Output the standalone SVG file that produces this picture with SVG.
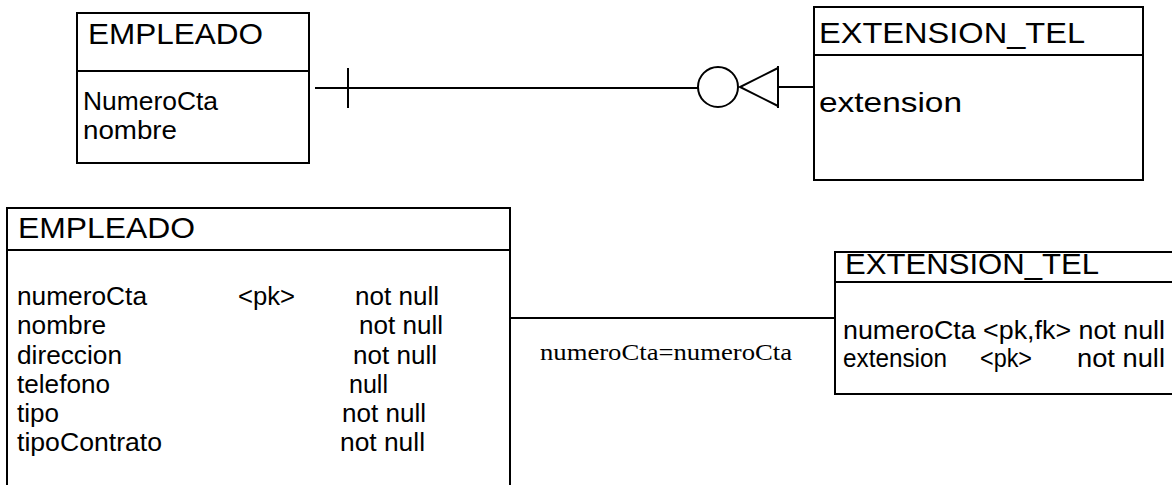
<svg xmlns="http://www.w3.org/2000/svg" width="1172" height="485" viewBox="0 0 1172 485">
<style>
.box{fill:#fff;stroke:#000;stroke-width:2}
.div{stroke:#000;stroke-width:2}
.ln{stroke:#000;stroke-width:2;fill:none}
.t{font-family:"Liberation Sans",Arial,sans-serif;fill:#000;font-size:30px}
.r{font-family:"Liberation Sans",Arial,sans-serif;fill:#000;font-size:25px}
.s{font-family:"Liberation Serif","Times New Roman",serif;fill:#000;font-size:24px}
</style>
<rect width="1172" height="485" fill="#fff"/>
<g id="connectors">
<line class="ln" x1="315" y1="88" x2="698" y2="88"/>
<line class="ln" x1="348" y1="68" x2="348" y2="108"/>
<circle class="ln" cx="718" cy="87" r="20"/>
<polyline class="ln" points="778,68 740,87 778,106"/>
<line class="ln" x1="778" y1="66" x2="778" y2="108"/>
<line class="ln" x1="778" y1="87" x2="814" y2="87"/>
<line class="ln" x1="510" y1="318" x2="835" y2="318"/>
<text class="s" x="540" y="360" textLength="252" lengthAdjust="spacingAndGlyphs">numeroCta=numeroCta</text>
</g>
<g id="empleado-top">
<rect class="box" x="77" y="13" width="232" height="150"/>
<line class="div" x1="77" y1="71" x2="309" y2="71"/>
<text class="t" x="88" y="44" textLength="175" lengthAdjust="spacingAndGlyphs">EMPLEADO</text>
<text class="r" x="83" y="110" textLength="135" lengthAdjust="spacingAndGlyphs">NumeroCta</text>
<text class="r" x="83" y="139" textLength="94" lengthAdjust="spacingAndGlyphs">nombre</text>
</g>
<g id="extension-top">
<rect class="box" x="814" y="7" width="329" height="173"/>
<line class="div" x1="814" y1="55" x2="1143" y2="55"/>
<text class="t" x="819" y="43" textLength="266" lengthAdjust="spacingAndGlyphs">EXTENSION_TEL</text>
<text class="t" x="819" y="112" style="font-size:28px" textLength="143" lengthAdjust="spacingAndGlyphs">extension</text>
</g>
<g id="empleado-bottom">
<rect class="box" x="7" y="208" width="503" height="290"/>
<line class="div" x1="7" y1="250" x2="510" y2="250"/>
<text class="t" x="18" y="238" textLength="177" lengthAdjust="spacingAndGlyphs">EMPLEADO</text>
<text class="r" x="17" y="305" textLength="130" lengthAdjust="spacingAndGlyphs">numeroCta</text>
<text class="r" x="17" y="334" textLength="89" lengthAdjust="spacingAndGlyphs">nombre</text>
<text class="r" x="17" y="364" textLength="105" lengthAdjust="spacingAndGlyphs">direccion</text>
<text class="r" x="17" y="393" textLength="93" lengthAdjust="spacingAndGlyphs">telefono</text>
<text class="r" x="17" y="422" textLength="42" lengthAdjust="spacingAndGlyphs">tipo</text>
<text class="r" x="17" y="451" textLength="145" lengthAdjust="spacingAndGlyphs">tipoContrato</text>
<text class="r" x="238" y="305" textLength="57" lengthAdjust="spacingAndGlyphs">&lt;pk&gt;</text>
<text class="r" x="355" y="305" textLength="84" lengthAdjust="spacingAndGlyphs">not null</text>
<text class="r" x="359" y="334" textLength="84" lengthAdjust="spacingAndGlyphs">not null</text>
<text class="r" x="353" y="364" textLength="84" lengthAdjust="spacingAndGlyphs">not null</text>
<text class="r" x="349" y="393" textLength="39" lengthAdjust="spacingAndGlyphs">null</text>
<text class="r" x="342" y="422" textLength="84" lengthAdjust="spacingAndGlyphs">not null</text>
<text class="r" x="340" y="451" textLength="85" lengthAdjust="spacingAndGlyphs">not null</text>
</g>
<g id="extension-bottom">
<rect class="box" x="835" y="252" width="345" height="142"/>
<line class="div" x1="835" y1="282" x2="1172" y2="282"/>
<text class="t" x="845" y="274" textLength="254" lengthAdjust="spacingAndGlyphs">EXTENSION_TEL</text>
<text class="r" x="843" y="339" textLength="322" lengthAdjust="spacingAndGlyphs">numeroCta &lt;pk,fk&gt; not null</text>
<text class="r" x="843" y="367" textLength="104" lengthAdjust="spacingAndGlyphs">extension</text>
<text class="r" x="980" y="367" textLength="52" lengthAdjust="spacingAndGlyphs">&lt;pk&gt;</text>
<text class="r" x="1077" y="367" textLength="88" lengthAdjust="spacingAndGlyphs">not null</text>
</g>
</svg>
